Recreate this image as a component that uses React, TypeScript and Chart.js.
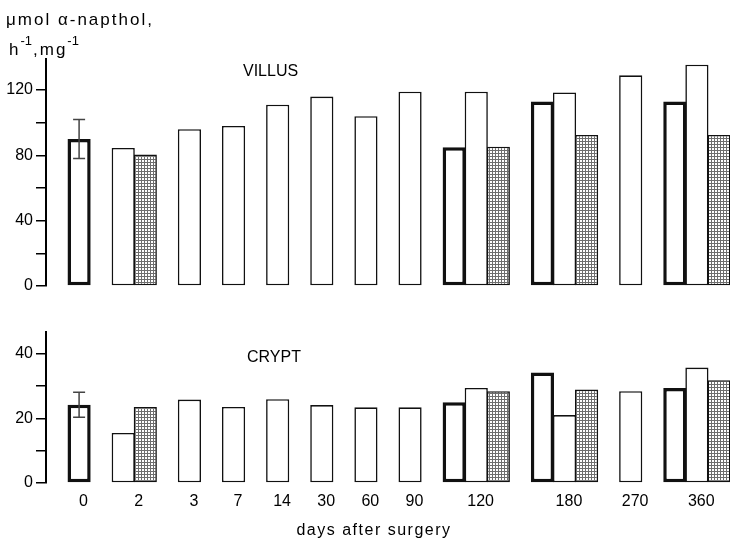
import React, { useEffect, useRef } from 'react';
import { Chart, registerables } from 'chart.js';

Chart.register(...registerables);

// ---- data ----
const days = ['0', '2', '3', '7', '14', '30', '60', '90', '120', '180', '270', '360'];

const villusControl = [90, null, null, null, null, null, null, null, 85, 113, null, 113];
const villusOperated = [null, 84.5, 96, 98, 111, 116, 104, 119, 119, 118.5, 129, 135.5];
const villusStippled = [null, 80.5, null, null, null, null, null, null, 85.3, 92.5, null, 92.5];
const villusControlError = [12, null, null, null, null, null, null, null, null, null, null, null];

const cryptControl = [24.2, null, null, null, null, null, null, null, 25, 34.2, null, 29.4];
const cryptOperated = [null, 15.5, 25.8, 23.5, 25.9, 24.1, 23.4, 23.4, 29.4, 21, 28.4, 35.7];
const cryptStippled = [null, 23.5, null, null, null, null, null, null, 28.4, 28.9, null, 31.8];
const cryptControlError = [3.9, null, null, null, null, null, null, null, null, null, null, null];

const villusTickLabels = [0, 40, 80, 120];
const cryptTickLabels = [0, 20, 40];
const villusAxisMax = 139;
const cryptAxisMax = 46.7;

const FONT = "'Liberation Sans', Arial, sans-serif";

type Series = (number | null)[];
const panels: Series[][] = [
  [villusControl, villusOperated, villusStippled],
  [cryptControl, cryptOperated, cryptStippled],
];
const panelErrors: Series[] = [villusControlError, cryptControlError];

// Build slot layout: one gap slot before each day group, then one slot per series present
function buildLayout() {
  const labels: string[] = [];
  const slotOf: number[][] = [];
  const centers: number[] = [];
  days.forEach((d, i) => {
    labels.push(`gap-${d}`);
    const row = [-1, -1, -1];
    const first = labels.length;
    for (let s = 0; s < 3; s++) {
      if (panels.some((p) => p[s][i] != null)) {
        row[s] = labels.length;
        labels.push(`${d}-${s}`);
      }
    }
    centers.push((first + labels.length - 1) / 2);
    slotOf.push(row);
  });
  return { labels, slotOf, centers };
}
const layout = buildLayout();

function makeStipple(): any {
  const c = document.createElement('canvas');
  c.width = 3;
  c.height = 3;
  const g = c.getContext('2d');
  if (!g) return '#aaa';
  g.fillStyle = '#fff';
  g.fillRect(0, 0, 3, 3);
  g.fillStyle = '#6e6e6e';
  g.fillRect(0, 0, 3, 1);
  g.fillRect(0, 0, 1, 3);
  return g.createPattern(c, 'repeat') || '#aaa';
}

function buildChart(canvas: HTMLCanvasElement, panel: number) {
  const isTop = panel === 0;
  const stipple = makeStipple();
  const slotData = panels[panel].map((arr, s) => {
    const out: (number | null)[] = layout.labels.map(() => null);
    arr.forEach((v, i) => {
      if (v != null) out[layout.slotOf[i][s]] = v;
    });
    return out;
  });
  const errs = panelErrors[panel];
  const tickLabels = isTop ? villusTickLabels : cryptTickLabels;

  const common = {
    grouped: false,
    barPercentage: 1.05,
    categoryPercentage: 1,
    borderSkipped: false,
    borderColor: '#111',
    xAxisID: 'x',
    yAxisID: 'y',
  };

  const textPlugin = {
    id: 'panelText',
    afterDatasetsDraw(chart: any) {
      const ctx = chart.ctx;
      const xs = chart.scales.x;
      const ys = chart.scales.y;
      // error bars on the control series
      ctx.save();
      ctx.strokeStyle = '#444';
      ctx.lineWidth = 1.5;
      errs.forEach((e, i) => {
        const v = panels[panel][0][i];
        if (e == null || v == null) return;
        const x = xs.getPixelForValue(layout.slotOf[i][0]);
        const yTop = ys.getPixelForValue(v + e);
        const yBot = ys.getPixelForValue(v - e);
        ctx.beginPath();
        ctx.moveTo(x, yTop);
        ctx.lineTo(x, yBot);
        ctx.moveTo(x - 6, yTop);
        ctx.lineTo(x + 6, yTop);
        ctx.moveTo(x - 6, yBot);
        ctx.lineTo(x + 6, yBot);
        ctx.stroke();
      });
      ctx.restore();
    },
    afterDraw(chart: any) {
      const ctx = chart.ctx;
      ctx.save();
      ctx.fillStyle = '#000';
      ctx.textBaseline = 'alphabetic';
      ctx.textAlign = 'left';
      if (isTop) {
        ctx.font = `16px ${FONT}`;
        ctx.fillText('VILLUS', 243, 76);
        // axis title
        ctx.font = `17px ${FONT}`;
        (ctx as any).letterSpacing = '2px';
        ctx.fillText('μmol α-napthol,', 6, 25);
        let x = 9;
        const parts: [string, boolean][] = [['h', false], ['-1', true], [',mg', false], ['-1', true]];
        parts.forEach(([t, sup]) => {
          ctx.font = sup ? `13px ${FONT}` : `17px ${FONT}`;
          (ctx as any).letterSpacing = sup ? '0px' : '2px';
          ctx.fillText(t, x, sup ? 45 : 55);
          x += ctx.measureText(t).width + (sup ? 1 : 0);
        });
      } else {
        ctx.font = `16px ${FONT}`;
        ctx.fillText('CRYPT', 247, 62);
        (ctx as any).letterSpacing = '1.5px';
        ctx.textAlign = 'center';
        ctx.fillText('days after surgery', 374, 235);
      }
      ctx.restore();
    },
  };

  const scales: any = {
    x: { type: 'category', labels: layout.labels, display: false, offset: true },
    y: {
      min: 0,
      max: isTop ? villusAxisMax : cryptAxisMax,
      afterFit: (s: any) => {
        s.width = 46;
      },
      border: { display: true, color: '#000', width: 2 },
      grid: { drawOnChartArea: false, drawTicks: true, tickLength: 10, color: '#000', lineWidth: 1.5 },
      ticks: {
        stepSize: isTop ? 20 : 10,
        includeBounds: false,
        autoSkip: false,
        padding: 3,
        color: '#000',
        font: { family: FONT, size: 16 },
        callback: (v: any) => (tickLabels.includes(Number(v)) ? String(v) : ''),
      },
    },
  };
  if (!isTop) {
    scales.xl = {
      type: 'linear',
      position: 'bottom',
      offset: false,
      min: -0.7,
      max: layout.labels.length - 0.7,
      afterBuildTicks: (s: any) => {
        s.ticks = layout.centers.map((v) => ({ value: v }));
      },
      afterFit: (s: any) => {
        s.height = 58;
      },
      grid: { display: false, drawTicks: false, offset: false },
      border: { display: false },
      ticks: {
        autoSkip: false,
        maxRotation: 0,
        minRotation: 0,
        padding: 9,
        color: '#000',
        font: { family: FONT, size: 16 },
        callback: (_v: any, i: number) => days[i],
      },
    };
  }

  return new Chart(canvas, {
    type: 'bar',
    data: {
      labels: layout.labels,
      datasets: [
        { ...common, label: 'control', data: slotData[0], backgroundColor: '#fff', borderWidth: 3.5 },
        { ...common, label: 'operated', data: slotData[1], backgroundColor: '#fff', borderWidth: 1.6 },
        { ...common, label: 'stippled', data: slotData[2], backgroundColor: stipple, borderWidth: 1.6 },
      ] as any,
    },
    options: {
      animation: false,
      responsive: false,
      devicePixelRatio: 1,
      layout: { padding: isTop ? { top: 59, bottom: 14, left: 0, right: 0 } : { top: 32, bottom: 0, left: 0, right: 0 } },
      plugins: { legend: { display: false }, tooltip: { enabled: false }, title: { display: false } },
      scales,
    } as any,
    plugins: [textPlugin as any],
  });
}

export default function App() {
  const topRef = useRef<HTMLCanvasElement>(null);
  const botRef = useRef<HTMLCanvasElement>(null);
  useEffect(() => {
    const charts: Chart[] = [];
    if (topRef.current) charts.push(buildChart(topRef.current, 0));
    if (botRef.current) charts.push(buildChart(botRef.current, 1));
    return () => charts.forEach((c) => c.destroy());
  }, []);
  return (
    <div style={{ position: 'fixed', left: 0, top: 0, width: 730, height: 541, background: '#fff' }}>
      <canvas ref={topRef} width={730} height={300} style={{ position: 'absolute', left: 0, top: 0, width: 730, height: 300 }} />
      <canvas ref={botRef} width={730} height={241} style={{ position: 'absolute', left: 0, top: 300, width: 730, height: 241 }} />
    </div>
  );
}
